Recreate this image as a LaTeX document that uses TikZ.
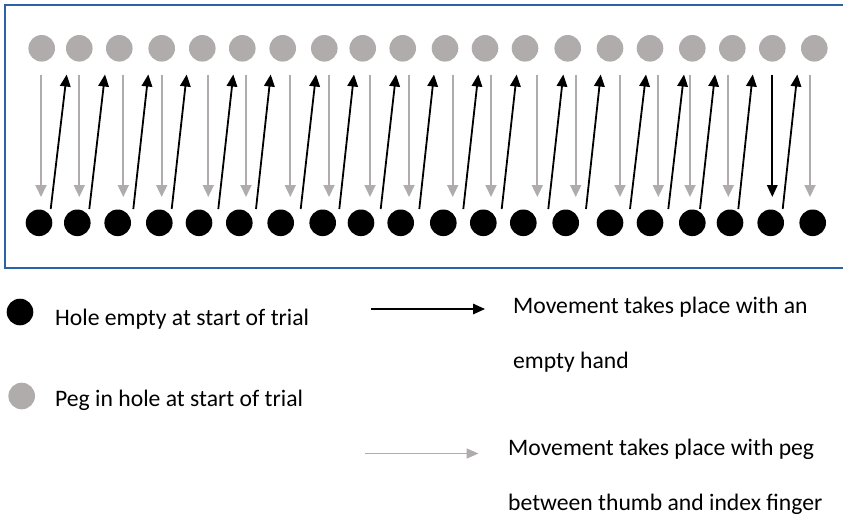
\documentclass[tikz,border=0pt]{standalone}
\usepackage{fontspec}
\setmainfont{Carlito}
\usetikzlibrary{arrows.meta}
\definecolor{pegcol}{RGB}{176,172,172}
\definecolor{boxblue}{RGB}{41,98,168}
\begin{document}
\begin{tikzpicture}[x=1pt,y=-1pt,
  hole/.style={circle,fill=black,minimum size=26.6pt,inner sep=0pt,draw=none},
  peg/.style={circle,fill=pegcol,minimum size=26.6pt,inner sep=0pt,draw=none},
  emptymove/.style={draw=black,line width=1.8pt,-{Triangle[width=10.5pt,length=12pt]}},
  pegmove/.style={draw=pegcol,line width=1.8pt,-{Triangle[width=11pt,length=12pt]}},
  lbl/.style={font=\fontsize{23.65}{55}\selectfont,inner sep=0pt,anchor=base west,align=left}]
\useasboundingbox (0,0) rectangle (843,515);
\begin{scope}
\clip (0,0) rectangle (843,515);
\draw[boxblue,line width=2pt] (4.5,5) rectangle (860,267.5);
\end{scope}
% top row: pegs
\foreach \x [count=\i] in {41.7,79.3,119.3,161.7,202.3,242.3,282.7,324.3,362.7,402.7,445,485,525,567.7,610,650,692.3,732.3,772.3,814.3}
  \node[peg] (t\i) at (\x,48.3) {};
% bottom row: holes
\foreach \x [count=\i] in {39,77.3,117.7,159.3,199,239.3,280.7,322.7,361,400.7,443.3,483.3,523.3,565.7,610,650,692.3,730,770.7,812.7}
  \node[hole] (b\i) at (\x,222.8) {};
% downward moves with peg
\foreach \x [count=\i] in {41,79.3,123.3,161.7,208.3,246,290.3,329,370,409,452.7,491,537.3,575.7,620,658.3,690,728.3,810}
  {\coordinate (gs\i) at (\x,74.5);
   \coordinate (ge\i) at (\x,197);
   \draw[pegmove] (gs\i) -- (ge\i);}
% downward move with empty hand
\coordinate (ks) at (772.3,74.5);
\coordinate (ke) at (772.3,197);
\draw[emptymove] (ks) -- (ke);
% upward moves with empty hand
\foreach \a/\b [count=\i] in {50.7/66.7,89.3/105,133.3/148.3,171.7/186.7,218.3/233.3,256/270.7,300.7/316,339.3/354,380.7/396,419.3/434,463.3/478.3,501.7/516.7,548.3/563.3,586/600.7,630/646,668.3/684,700/715,738.3/752.7,782.7/797.3}
  {\coordinate (us\i) at (\a,209);
   \coordinate (ue\i) at (\b,74.5);
   \draw[emptymove] (us\i) -- (ue\i);}
% legend
\node[hole] (lh) at (20,312) {};
\node[peg] (lp) at (21.7,396) {};
\node[lbl] (th) at (55,325) {Hole empty at start of trial};
\node[lbl] (tp) at (55,406.7) {Peg in hole at start of trial};
\coordinate (ea) at (371,309);
\coordinate (eb) at (485,309);
\draw[emptymove,line width=1.6pt] (ea) -- (eb);
\coordinate (pa) at (365,453.5);
\coordinate (pb) at (478.5,453.5);
\draw[pegmove,line width=1.6pt,-{Triangle[width=10pt,length=12pt]}] (pa) -- (pb);
\node[lbl] (te) at (513,368.3) {Movement takes place with an\\empty hand};
\node[lbl] (tg) at (508,510) {Movement takes place with peg\\between thumb and index finger};
\end{tikzpicture}
\end{document}
